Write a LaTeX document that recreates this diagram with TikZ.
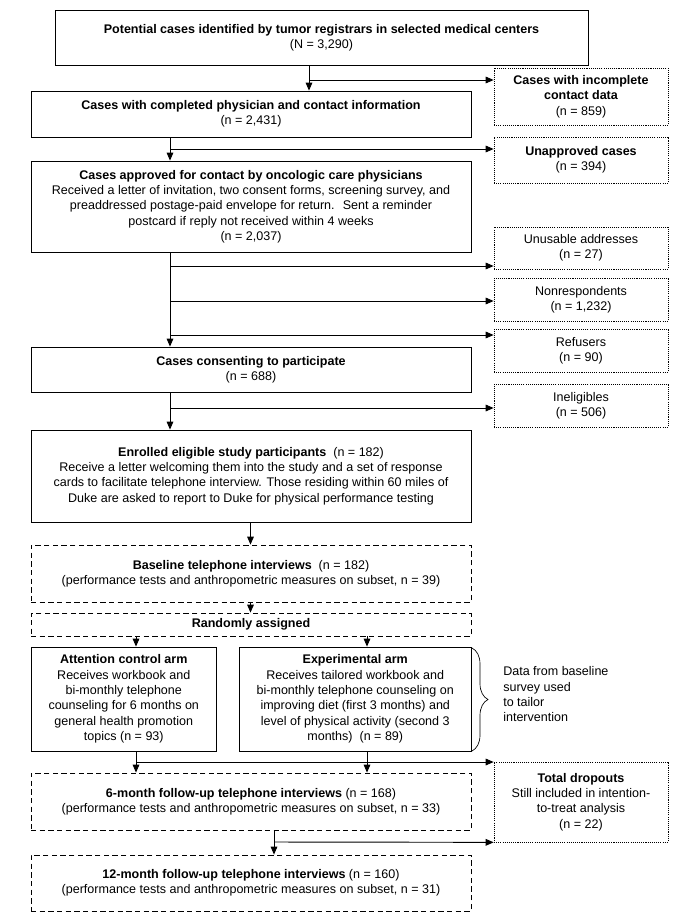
\documentclass[tikz,border=0pt]{standalone}
\usepackage{fontspec}
\setmainfont{Liberation Sans}
\usetikzlibrary{arrows.meta,decorations.pathreplacing}
\tikzset{
  box/.style={draw, line width=0.6pt, inner sep=0pt, align=center, font=\fontsize{9.4}{11.5}\selectfont},
  dbox/.style={box, dash pattern=on 4pt off 2.5pt},
  obox/.style={box, line width=0.5pt, dash pattern=on 0.8pt off 0.8pt},
  sz/.style 2 args={minimum width=#1*0.75pt, minimum height=#2*0.75pt},
  arr/.style={line width=0.7pt, -{Triangle[length=6pt,width=5pt]}},
}

\begin{document}
\begin{tikzpicture}[x=0.75pt,y=-0.75pt]
			%%%%% START %%%%%
			\useasboundingbox (0,0) rectangle (684,921);
			
			% main column
			\node[box, sz={533}{55}] (cand) at (321.5,37.5) {\textbf{Potential cases identified by tumor registrars in selected medical centers}\\(N = 3,290)};
			\node[box, sz={440}{46}] (compl) at (251,114) {\textbf{Cases with completed physician and contact information}\\(n = 2,431)};
			\node[box, sz={440}{91}] (appr) at (251,206.5) {\textbf{Cases approved for contact by oncologic care physicians}\\Received a letter of invitation, two consent forms, screening survey, and\\preaddressed postage-paid envelope for return.~ Sent a reminder\\postcard if reply not received within 4 weeks\\(n = 2,037)};
			\node[box, sz={440}{45}] (cons) at (251,369.5) {\textbf{Cases consenting to participate}\\(n = 688)};
			\node[box, sz={440}{92}] (enrl) at (251,476) {\textbf{Enrolled eligible study participants}~ (n = 182)\\Receive a letter welcoming them into the study and a set of response\\cards to facilitate telephone interview. Those residing within 60 miles of\\Duke are asked to report to Duke for physical performance testing};
			\node[dbox, sz={440}{57}] (base) at (251,573.5) {\textbf{Baseline telephone interviews}~ (n = 182)\\(performance tests and anthropometric measures on subset, n = 39)};
			\node[dbox, sz={440}{23}] (rand) at (251,624.5) {\textbf{Randomly assigned}};
			\node[box, sz={185.5}{104}] (ctrl) at (123.75,699) {\textbf{Attention control arm}\\Receives workbook and\\bi-monthly telephone\\counseling for 6 months on\\general health promotion\\topics (n = 93)};
			\node[box, sz={231.5}{104}] (expt) at (355.25,699) {\textbf{Experimental arm}\\Receives tailored workbook and\\bi-monthly telephone counseling on\\improving diet (first 3 months) and\\level of physical activity (second 3\\months)~ (n = 89)};
			\node[dbox, sz={440}{57}] (fu6) at (251,801.5) {\textbf{6-month follow-up telephone interviews} (n = 168)\\(performance tests and anthropometric measures on subset, n = 33)};
			\node[dbox, sz={440}{56}] (fu12) at (251,883) {\textbf{12-month follow-up telephone interviews} (n = 160)\\(performance tests and anthropometric measures on subset, n = 31)};
			
			% exclusions
			\node[obox, sz={174}{57}] (incm) at (581,96.5) {\textbf{Cases with incomplete}\\\textbf{contact data}\\(n = 859)};
			\node[obox, sz={174}{46}] (unap) at (581,160) {\textbf{Unapproved cases}\\(n = 394)};
			\node[obox, sz={174}{42}] (unus) at (581,248) {Unusable addresses\\(n = 27)};
			\node[obox, sz={174}{43}] (nonr) at (581,299.5) {Nonrespondents\\(n = 1,232)};
			\node[obox, sz={174}{43}] (refu) at (581,350.5) {Refusers\\(n = 90)};
			\node[obox, sz={174}{43}] (inel) at (581,405.5) {Ineligibles\\(n = 506)};
			\node[obox, sz={174}{80}] (drop) at (581,802) {\textbf{Total dropouts}\\Still included in intention-\\to-treat analysis\\(n = 22)};
			
			\node[anchor=west, align=left, inner sep=0pt, font=\fontsize{9.4}{11.5}\selectfont] (note) at (503,694.5) {Data from baseline\\survey used\\to tailor\\intervention};
			\draw[line width=0.5pt, decorate, decoration={brace, amplitude=12pt}] (472,648) -- (472,751);
			
			% arrows
			\coordinate (c1) at (309,80);
			\draw[arr] (cand.south -| c1) -- (compl.north -| c1);
			\draw[arr] (c1) -- (c1 -| incm.west);
			
			\coordinate (c2) at (170,149);
			\draw[arr] (compl.south -| c2) -- (appr.north -| c2);
			\draw[arr] (c2) -- (c2 -| unap.west);
			
			\coordinate (c3) at (170,266);
			\coordinate (c4) at (170,301);
			\coordinate (c5) at (170,335);
			\draw[arr] (appr.south -| c3) -- (cons.north -| c3);
			\draw[arr] (c3) -- (c3 -| unus.west);
			\draw[arr] (c4) -- (c4 -| nonr.west);
			\draw[arr] (c5) -- (c5 -| refu.west);
			
			\coordinate (c6) at (170,408);
			\draw[arr] (cons.south -| c6) -- (enrl.north -| c6);
			\draw[arr] (c6) -- (c6 -| inel.west);
			
			\coordinate (c7) at (250.5,0);
			\draw[arr] (enrl.south -| c7) -- (base.north -| c7);
			\draw[arr] (base.south -| c7) -- (rand.north -| c7);
			
			\coordinate (c8) at (136,762);
			\coordinate (c9) at (367,762);
			\draw[arr] (rand.south -| c8) -- (ctrl.north -| c8);
			\draw[arr] (rand.south -| c9) -- (expt.north -| c9);
			\draw[arr] (ctrl.south -| c8) -- (fu6.north -| c8);
			\draw[arr] (expt.south -| c9) -- (fu6.north -| c9);
			\draw[arr] (c8) -- (c8 -| drop.west);
			
			\coordinate (c10) at (274,842);
			\draw[arr] (fu6.south -| c10) -- (fu12.north -| c10);
			\draw[arr] (c10) -- (drop.south west);
			
			%%%%% END %%%%%
		\end{tikzpicture}
\end{document}
